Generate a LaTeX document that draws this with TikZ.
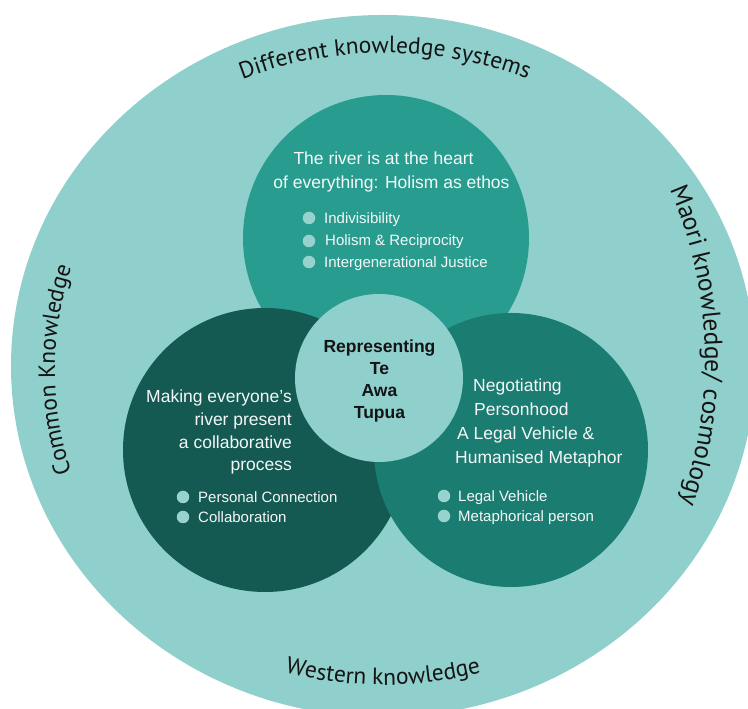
\documentclass[tikz,border=0pt]{standalone}
\usepackage{fontspec}
\setmainfont{Liberation Sans}
\newfontfamily\labelfont{PT Sans}
\usetikzlibrary{decorations.text}

\definecolor{ringc}{HTML}{8FCFCC}
\definecolor{holismc}{HTML}{289D8F}
\definecolor{collabc}{HTML}{145A52}
\definecolor{personc}{HTML}{1B7D71}
\definecolor{dotc}{HTML}{97D2CF}
\definecolor{inkc}{HTML}{141414}
\definecolor{paperc}{HTML}{F4F8F8}

\begin{document}
\begin{tikzpicture}[x=1pt, y=1pt,
  disc/.style={circle, inner sep=0pt, outer sep=0pt, minimum size=#1},
  dot/.style={circle, fill=dotc, inner sep=0pt, minimum size=12.5pt},
  head/.style={text=paperc, inner sep=0pt, font=\fontsize{17.5}{#1}\selectfont},
  item/.style={text=paperc, inner sep=0pt, anchor=base west, font=\fontsize{15}{18}\selectfont},
  ringtext/.style n args={2}{decorate, decoration={text along path, text align=center,
      text color=inkc, text={|\labelfont\fontsize{#1}{#1}\selectfont|#2}}}
]
\useasboundingbox (0,0) rectangle (748,709);
\clip (0,0) rectangle (748,709);

% outer ring of knowledge systems
\fill[ringc] (383,343) ellipse [x radius=372, y radius=351];

% the three themes and the centre
\node[disc=286pt, fill=holismc] (holism) at (386,471) {};
\node[disc=284pt, fill=collabc] (collab) at (265,259) {};
\node[disc=274pt, fill=personc] (person) at (511,259) {};
\node[disc=168pt, fill=ringc] (centre) at (379,331) {};

% labels set along the ring
\path[ringtext={23.5}{Different knowledge systems}]
  (385,256) ++(115:400pt) arc[start angle=115, end angle=65, radius=400pt];
\path[ringtext={23.5}{Western knowledge}]
  (383,414) ++(250:390pt) arc[start angle=250, end angle=290, radius=390pt];
\path[ringtext={23.5}{Common Knowledge}]
  (383,339) ++(215:328pt) arc[start angle=215, end angle=145, radius=328pt];
\path[ringtext={25.5}{Maori knowledge/ cosmology}]
  (275,349) ++(28:430pt) arc[start angle=28, end angle=-24, radius=430pt];

% holism theme
\node[head=24, align=center] (holismhead) at (391.5,537.5)
  {The river is at the heart\hspace*{16pt}\\of everything: Holism as ethos};
\node[dot] (hd1) at (309,491) {};
\node[dot] (hd2) at (309,468) {};
\node[dot] (hd3) at (309,447) {};
\node[item] (hi1) at (324,485.5) {Indivisibility};
\node[item] (hi2) at (325,463) {Holism \& Reciprocity};
\node[item] (hi3) at (324,441) {Intergenerational Justice};

% collaboration theme
\node[head=22.7, align=right, anchor=east] (collabhead) at (292,276.6)
  {Making everyone’s\\river present\\a collaborative\\process};
\node[dot] (cd1) at (183,212) {};
\node[dot] (cd2) at (183,192) {};
\node[item] (ci1) at (198,206.5) {Personal Connection};
\node[item] (ci2) at (198,186.5) {Collaboration};

% personhood theme
\node[head=24.3, align=left, anchor=west] (personhead) at (455,286)
  {\hspace*{18pt}Negotiating\\\hspace*{19pt}Personhood\\\hspace*{2pt}A Legal Vehicle \&\\Humanised Metaphor};
\node[dot] (pd1) at (444,213) {};
\node[dot] (pd2) at (444,193) {};
\node[item] (pi1) at (458,207.5) {Legal Vehicle};
\node[item] (pi2) at (458,187.5) {Metaphorical person};

% centre label
\node[text=inkc, inner sep=0pt, align=center, font=\bfseries\fontsize{17.5}{22}\selectfont]
  (centrelabel) at (379.5,328) {Representing\\Te\\Awa\\Tupua};
\end{tikzpicture}
\end{document}
